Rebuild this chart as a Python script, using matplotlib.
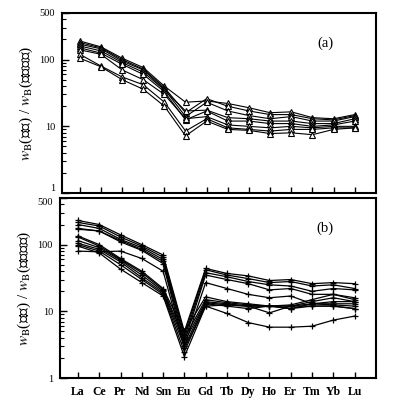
import matplotlib
matplotlib.use("Agg")
import matplotlib.pyplot as plt
from matplotlib.ticker import FixedLocator, LogLocator, NullFormatter

plt.rcParams['font.family'] = ['Liberation Serif', 'Noto Sans CJK SC', 'DejaVu Sans']
plt.rcParams['mathtext.fontset'] = 'stix'

elements = ["La", "Ce", "Pr", "Nd", "Sm", "Eu", "Gd", "Tb", "Dy", "Ho", "Er", "Tm", "Yb", "Lu"]

# Panel (a) - chondrite-normalized REE (triangles)
a1 = [190, 155, 105, 76, 40, 23, 24, 22, 19, 16, 16.5, 13.5, 13, 15]
a2 = [180, 150, 100, 72, 38, 16, 26, 20, 17, 15, 15, 13, 12.5, 14.5]
a3 = [170, 145, 95, 70, 36, 14, 23, 17, 14.5, 13, 14, 12, 12, 14]
a4 = [160, 135, 90, 65, 35, 17, 17.5, 13.5, 13, 12, 12, 11, 11, 13]
a5 = [150, 125, 85, 60, 33, 12.5, 17, 12, 12, 11, 11, 10, 10.5, 12]
a6 = [140, 120, 70, 50, 30, 13, 14, 10.5, 10, 9.5, 10, 9.5, 10, 10]
a7 = [120, 80, 55, 42, 23, 8.5, 13, 9.5, 9, 8.5, 9, 9, 9.5, 9.5]
a8 = [105, 78, 50, 36, 20, 7.2, 12, 9, 8.7, 7.8, 8, 7.5, 9, 9.5]
series_a = [a1, a2, a3, a4, a5, a6, a7, a8]

# Panel (b) - chondrite-normalized REE (plus markers)
u1 = [230, 200, 140, 100, 70, 5.0, 44, 37, 34, 29, 30, 26, 27, 26]
u2 = [215, 190, 130, 95, 65, 4.5, 42, 35, 31, 27, 28, 24, 25, 22]
u3 = [200, 175, 120, 90, 60, 4.0, 38, 33, 28, 25, 24, 20, 22, 21]
u4 = [175, 160, 115, 85, 56, 3.5, 35, 30, 26, 21, 22, 18, 18, 16]
u5 = [170, 160, 110, 82, 52, 3.0, 27, 22, 18, 16, 17, 13, 14, 14]
l1 = [135, 100, 62, 40, 22, 5.0, 16.5, 14, 13, 12, 12.5, 15, 18, 15]
l2 = [130, 95, 60, 38, 21, 4.0, 15, 13.5, 12.5, 12, 12, 14, 16, 14]
l3 = [115, 90, 58, 35, 20, 3.5, 14, 13, 12, 12, 11, 13, 13, 13]
l4 = [105, 85, 55, 32, 19, 3.0, 13.5, 12.5, 12, 9.5, 12, 13, 12.5, 12]
l5 = [100, 80, 50, 30, 18, 2.5, 13, 12, 11, 12, 11, 12, 12, 11]
l6 = [95, 75, 43, 27, 17, 2.1, 12, 9.3, 6.8, 5.8, 5.8, 6, 7.4, 8.5]
l7 = [80, 78, 80, 62, 40, 2.8, 12, 12.5, 12, 12, 12, 12, 12, 11]
series_b = [u1, u2, u3, u4, u5, l1, l2, l3, l4, l5, l6, l7]

ytick_vals = [1, 10, 100, 500]
ytick_labels = ["1", "10", "100", "500"]
ylabel = "$w_{\\mathrm{B}}$(岩石) / $w_{\\mathrm{B}}$(球粒陨石)"

fig = plt.figure(figsize=(3.94, 4.04), dpi=100)
ax_a = fig.add_axes([0.157, 0.522, 0.797, 0.446])
ax_b = fig.add_axes([0.152, 0.064, 0.802, 0.446])

x = list(range(len(elements)))

def style(ax, label, show_xlabels):
    ax.set_yscale('log')
    ax.set_ylim(1, 500)
    ax.set_xlim(-0.85, 14.0)
    ax.yaxis.set_major_locator(FixedLocator(ytick_vals))
    ax.set_yticklabels(ytick_labels, fontsize=7.5)
    ax.yaxis.set_minor_locator(LogLocator(base=10, subs=range(2, 10)))
    ax.yaxis.set_minor_formatter(NullFormatter())
    ax.tick_params(axis='y', which='major', direction='in', length=5, width=1, right=False, pad=5)
    ax.tick_params(axis='y', which='minor', direction='in', length=3, width=0.8, right=False)
    ax.set_xticks(x)
    if show_xlabels:
        ax.set_xticklabels(elements, fontsize=8.5, fontweight='bold')
    else:
        ax.set_xticklabels([])
    ax.tick_params(axis='x', which='both', direction='in', length=4, width=1, top=False, pad=6)
    for s in ax.spines.values():
        s.set_linewidth(1.5)
    ax.set_ylabel(ylabel, fontsize=11, labelpad=3)
    ax.text(0.84, 0.83, label, transform=ax.transAxes, fontsize=10.5, ha='center', va='center')

for s in series_a:
    ax_a.plot(x, s, color='black', lw=0.8, marker='^', ms=5, mfc='white', mec='black', mew=0.8)
for s in series_b:
    ax_b.plot(x, s, color='black', lw=0.9, marker='+', ms=5, mew=0.9)

style(ax_a, "(a)", False)
style(ax_b, "(b)", True)

# avoid collision of panel (a) "1" and panel (b) "500"
ax_a.get_yticklabels()[0].set_va('bottom')
ax_b.get_yticklabels()[-1].set_va('top')

fig.savefig("out.png", dpi=100)
